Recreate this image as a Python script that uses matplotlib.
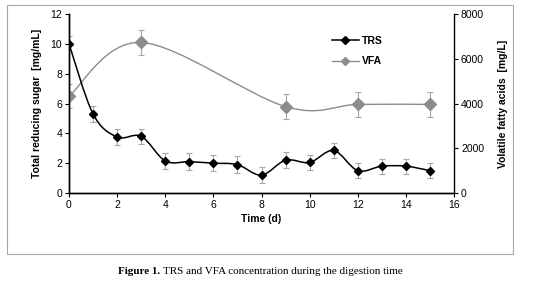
import matplotlib.pyplot as plt
from matplotlib.path import Path
from matplotlib.patches import PathPatch, Rectangle
import numpy as np

plt.rcParams['font.family'] = ['Liberation Sans', 'DejaVu Sans']

# TRS (left axis, mg/mL)
trs_day = [0, 1, 2, 3, 4, 5, 6, 7, 8, 9, 10, 11, 12, 13, 14, 15]
trs = [10.0, 5.3, 3.75, 3.8, 2.15, 2.1, 2.0, 1.9, 1.2, 2.2, 2.05, 2.85, 1.5, 1.8, 1.8, 1.5]
trs_err = [0.5, 0.55, 0.55, 0.5, 0.55, 0.55, 0.55, 0.55, 0.55, 0.55, 0.5, 0.5, 0.5, 0.5, 0.5, 0.5]

# VFA (right axis, mg/L)
vfa_day = [0, 3, 9, 12, 15]
vfa = [4330, 6730, 3860, 3960, 3960]
vfa_err = [550, 550, 550, 550, 550]


def smooth_path(xs, ys):
    # Excel-style smoothed line: cubic Bezier segments through the points
    pts = np.column_stack([xs, ys]).astype(float)
    n = len(pts)
    verts = [pts[0]]
    codes = [Path.MOVETO]
    for i in range(n - 1):
        p0 = pts[i - 1] if i > 0 else pts[i]
        p1, p2 = pts[i], pts[i + 1]
        p3 = pts[i + 2] if i + 2 < n else pts[i + 1]
        c1 = p1 + (p2 - p0) / 6
        c2 = p2 - (p3 - p1) / 6
        verts += [c1, c2, p2]
        codes += [Path.CURVE4] * 3
    return Path(verts, codes)


fig = plt.figure(figsize=(5.39, 2.83), dpi=100)
ax = fig.add_axes([69 / 539, 1 - 193 / 283, (454 - 69) / 539, (193 - 14) / 283])
ax2 = ax.twinx()

# outer chart frame
fig.patches.append(Rectangle((7 / 539, 1 - 254 / 283), 506 / 539, 249 / 283,
                             transform=fig.transFigure, fill=False,
                             edgecolor='#a8a8a8', linewidth=0.8))

err_col = '#a6a6a6'
vfa_col = '#8c8c8c'

ax2.errorbar(vfa_day, vfa, yerr=vfa_err, fmt='none', ecolor=err_col,
             elinewidth=0.8, capsize=2.5, capthick=0.8, zorder=2)
ax2.add_patch(PathPatch(smooth_path(vfa_day, vfa), fill=False,
                        edgecolor=vfa_col, linewidth=1.0, zorder=3))
ax2.plot(vfa_day, vfa, linestyle='none', marker='D', markersize=6.5,
         color=vfa_col, zorder=4)

ax.errorbar(trs_day, trs, yerr=trs_err, fmt='none', ecolor=err_col,
            elinewidth=0.8, capsize=2.5, capthick=0.8, zorder=2)
ax.add_patch(PathPatch(smooth_path(trs_day, trs), fill=False,
                       edgecolor='black', linewidth=1.1, zorder=3))
ax.plot(trs_day, trs, linestyle='none', marker='D', markersize=4,
        color='black', zorder=4)
ax.set_zorder(ax2.get_zorder() + 1)
ax.patch.set_visible(False)

ax.set_xlim(0, 16)
ax.set_ylim(0, 12)
ax2.set_ylim(0, 8000)
ax.set_xticks(range(0, 17, 2))
ax.set_yticks(range(0, 13, 2))
ax2.set_yticks(range(0, 8001, 2000))

for a in (ax, ax2):
    a.spines['top'].set_visible(False)
    for s in a.spines.values():
        s.set_linewidth(1.0)
    a.tick_params(labelsize=7.5, length=3, width=0.8, pad=2)
ax.spines['right'].set_visible(False)

ax.set_xlabel('Time (d)', fontsize=7.5, fontweight='bold', labelpad=3)
ax.set_ylabel('Total reducing sugar  [mg/mL]', fontsize=7.5, fontweight='bold', labelpad=6)
ax2.set_ylabel('Volatile fatty acids  [mg/L]', fontsize=7.5, fontweight='bold', labelpad=10)

# legend
l1, = ax.plot([], [], color='black', marker='D', markersize=4, linewidth=1.1)
l2, = ax.plot([], [], color=vfa_col, marker='D', markersize=4, linewidth=1.0)
leg = ax.legend([l1, l2], ['TRS', 'VFA'], loc='upper left',
                bbox_to_anchor=(0.66, 0.93), frameon=False, fontsize=7.5,
                handlelength=2.5, handletextpad=0.3, labelspacing=1.0)
for t in leg.get_texts():
    t.set_fontweight('bold')

fig.text(160 / 539, 1 - 271 / 283, 'Figure 1.', family='Liberation Serif',
         fontweight='bold', fontsize=8, ha='right', va='center')
fig.text(163 / 539, 1 - 271 / 283, 'TRS and VFA concentration during the digestion time',
         family='Liberation Serif', fontsize=8, ha='left', va='center')

fig.savefig('out.png', dpi=100)
